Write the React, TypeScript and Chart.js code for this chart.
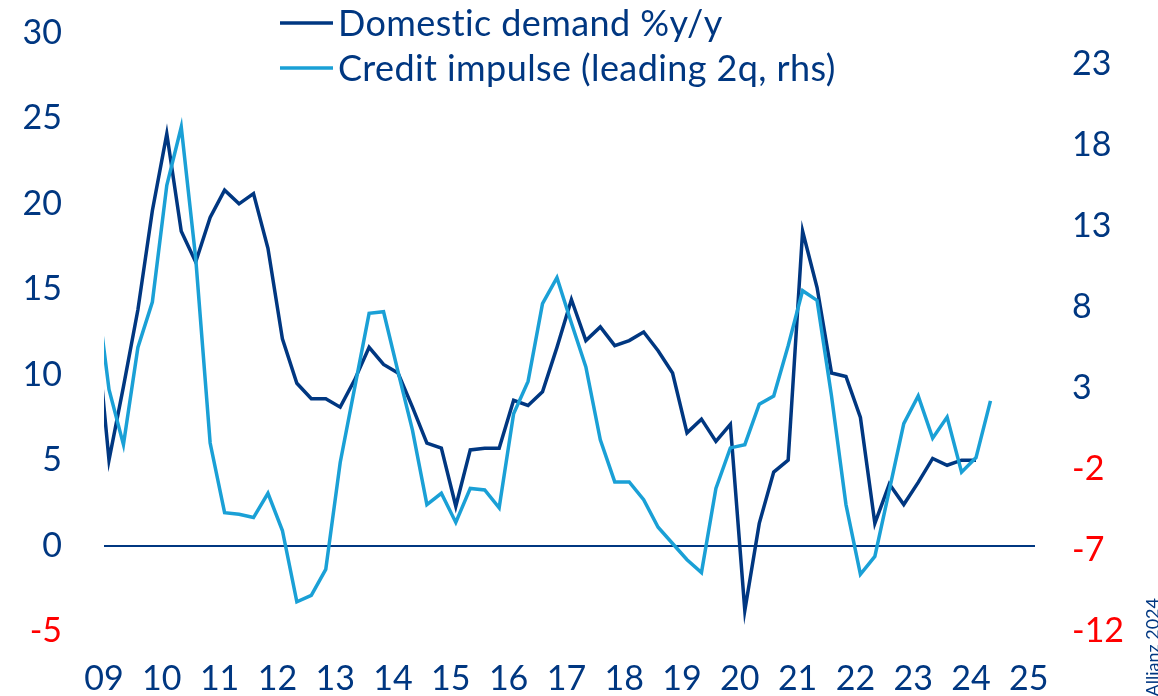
import { useEffect, useRef } from "react";
import { Chart, registerables } from "chart.js";

Chart.register(...registerables);

// ---- data ----
const quarters = [
  "2008Q4",
  "2009Q1", "2009Q2", "2009Q3", "2009Q4",
  "2010Q1", "2010Q2", "2010Q3", "2010Q4",
  "2011Q1", "2011Q2", "2011Q3", "2011Q4",
  "2012Q1", "2012Q2", "2012Q3", "2012Q4",
  "2013Q1", "2013Q2", "2013Q3", "2013Q4",
  "2014Q1", "2014Q2", "2014Q3", "2014Q4",
  "2015Q1", "2015Q2", "2015Q3", "2015Q4",
  "2016Q1", "2016Q2", "2016Q3", "2016Q4",
  "2017Q1", "2017Q2", "2017Q3", "2017Q4",
  "2018Q1", "2018Q2", "2018Q3", "2018Q4",
  "2019Q1", "2019Q2", "2019Q3", "2019Q4",
  "2020Q1", "2020Q2", "2020Q3", "2020Q4",
  "2021Q1", "2021Q2", "2021Q3", "2021Q4",
  "2022Q1", "2022Q2", "2022Q3", "2022Q4",
  "2023Q1", "2023Q2", "2023Q3", "2023Q4",
  "2024Q1", "2024Q2",
];

const domesticDemand: (number | null)[] = [
  13.9,
  5.0, 9.3, 13.8, 19.6,
  24.1, 18.4, 16.6, 19.2,
  20.8, 20.0, 20.6, 17.4,
  12.1, 9.5, 8.6, 8.6,
  8.1, 9.7, 11.6, 10.6,
  10.1, 8.1, 6.0, 5.7,
  2.3, 5.6, 5.7, 5.7,
  8.5, 8.2, 9.0, 11.6,
  14.4, 12.0, 12.8, 11.7,
  12.0, 12.5, 11.4, 10.1,
  6.6, 7.4, 6.1, 7.1,
  -3.8, 1.3, 4.3, 5.0,
  18.4, 15.1, 10.1, 9.9,
  7.5, 1.3, 3.6, 2.4,
  3.7, 5.1, 4.7, 5.0,
  5.0, null,
];

const creditImpulse: number[] = [
  10.0,
  2.9, -0.5, 5.5, 8.3,
  15.5, 19.1, 11.0, -0.4,
  -4.7, -4.8, -5.0, -3.5,
  -5.8, -10.2, -9.8, -8.2,
  -1.6, 3.0, 7.6, 7.7,
  4.0, 0.4, -4.2, -3.5,
  -5.3, -3.2, -3.3, -4.4,
  1.4, 3.4, 8.2, 9.8,
  7.0, 4.3, -0.2, -2.8,
  -2.8, -3.9, -5.6, -6.6,
  -7.6, -8.4, -3.2, -0.7,
  -0.5, 2.0, 2.5, 5.6,
  9.0, 8.4, 2.5, -4.2,
  -8.5, -7.4, -3.3, 0.8,
  2.5, -0.1, 1.2, -2.2,
  -1.3, 2.2,
];

const yearTicks = [2009, 2010, 2011, 2012, 2013, 2014, 2015, 2016, 2017, 2018, 2019, 2020, 2021, 2022, 2023, 2024, 2025];
const leftTicks = [-5, 0, 5, 10, 15, 20, 25, 30];
const rightTicks = [-12, -7, -2, 3, 8, 13, 18, 23];
const legendLabels = ["Domestic demand %y/y", "Credit impulse (leading 2q, rhs)"];
const sourceNote = "Allianz 2024";

// ---- styles ----
const NAVY = "#003781";
const LIGHT = "#1AA0D6";
const RED = "#FF0000";
const FONT = "Lato, 'Open Sans', sans-serif";
const POINT_OFFSET = 0.0865; // data points sit slightly after the year tick

function quarterToX(q: string): number {
  const year = parseInt(q.slice(0, 4), 10);
  const qq = parseInt(q.slice(5), 10);
  return year + (qq - 1) / 4 + POINT_OFFSET;
}

const overlayPlugin = {
  id: "overlay",
  afterDraw(chart: any) {
    const ctx = chart.ctx as CanvasRenderingContext2D;
    ctx.save();
    const colors = [NAVY, LIGHT];
    legendLabels.forEach((label, i) => {
      const y = 23 + i * 45;
      ctx.strokeStyle = colors[i];
      ctx.lineWidth = 3.5;
      ctx.beginPath();
      ctx.moveTo(280, y);
      ctx.lineTo(333, y);
      ctx.stroke();
      ctx.fillStyle = NAVY;
      ctx.font = `36px ${FONT}`;
      (ctx as any).letterSpacing = "0.4px";
      ctx.textBaseline = "middle";
      ctx.textAlign = "left";
      ctx.fillText(label, 338, y + 1);
    });
    (ctx as any).letterSpacing = "0px";
    ctx.translate(1153, 598);
    ctx.rotate(-Math.PI / 2);
    ctx.font = `18px ${FONT}`;
    ctx.fillStyle = NAVY;
    ctx.textAlign = "right";
    ctx.textBaseline = "middle";
    ctx.fillText(sourceNote, 0, 0);
    ctx.restore();
  },
};

function zeroPad(s: any) {
  s.paddingTop = 0;
  s.paddingBottom = 0;
  s.paddingLeft = 0;
  s.paddingRight = 0;
}

export default function App() {
  const canvasRef = useRef<HTMLCanvasElement | null>(null);

  useEffect(() => {
    if (!canvasRef.current) return;
    const tickColor = (ctx: any) => (ctx.tick && ctx.tick.value < 0 ? RED : NAVY);
    const chart = new Chart(canvasRef.current, {
      type: "line",
      data: {
        datasets: [
          {
            label: legendLabels[1],
            data: quarters.map((q, i) => ({ x: quarterToX(q), y: creditImpulse[i] })),
            borderColor: LIGHT,
            borderWidth: 3.5,
            pointRadius: 0,
            tension: 0,
            yAxisID: "yRight",
            order: 0,
            clip: 0,
          },
          {
            label: legendLabels[0],
            data: quarters.map((q, i) => ({ x: quarterToX(q), y: domesticDemand[i] as any })),
            borderColor: NAVY,
            borderWidth: 3.5,
            pointRadius: 0,
            tension: 0,
            yAxisID: "yLeft",
            order: 1,
            clip: 0,
          },
        ],
      },
      options: {
        responsive: false,
        animation: false,
        layout: { padding: { top: 33, left: 0, right: 0, bottom: 0 } },
        plugins: { legend: { display: false }, tooltip: { enabled: false }, title: { display: false } },
        scales: {
          x: {
            type: "linear",
            min: 2009,
            max: 2025.107,
            afterBuildTicks: (s: any) => {
              s.ticks = yearTicks.map((v) => ({ value: v }));
            },
            afterFit: (s: any) => {
              s.height = 65;
              zeroPad(s);
            },
            grid: { display: false, drawTicks: false },
            border: { display: false },
            ticks: {
              color: NAVY,
              font: { family: FONT, size: 34 },
              padding: 28,
              maxRotation: 0,
              autoSkip: false,
              callback: (v: any) => String(Math.round(Number(v)) % 100).padStart(2, "0"),
            },
          },
          yLeft: {
            type: "linear",
            position: "left",
            min: -5,
            max: 30,
            afterBuildTicks: (s: any) => {
              s.ticks = leftTicks.map((v) => ({ value: v }));
            },
            afterFit: (s: any) => {
              s.width = 104;
              zeroPad(s);
            },
            grid: {
              drawTicks: false,
              color: (ctx: any) => (ctx.tick && ctx.tick.value === 0 ? NAVY : "rgba(0,0,0,0)"),
              lineWidth: 2,
            },
            border: { display: false },
            ticks: {
              color: tickColor,
              font: { family: FONT, size: 34 },
              padding: 42,
              autoSkip: false,
            },
          },
          yRight: {
            type: "linear",
            position: "right",
            min: -12,
            max: 24.9,
            afterBuildTicks: (s: any) => {
              s.ticks = rightTicks.map((v) => ({ value: v }));
            },
            afterFit: (s: any) => {
              s.width = 123;
              zeroPad(s);
            },
            grid: { display: false, drawTicks: false, drawOnChartArea: false },
            border: { display: false },
            ticks: {
              color: tickColor,
              font: { family: FONT, size: 34 },
              padding: 37,
              autoSkip: false,
            },
          },
        },
      },
      plugins: [overlayPlugin],
    } as any);
    return () => chart.destroy();
  }, []);

  return (
    <div style={{ position: "fixed", left: 0, top: 0, width: 1158, height: 696, background: "#fff" }}>
      <canvas ref={canvasRef} width={1158} height={696} style={{ display: "block" }} />
    </div>
  );
}
